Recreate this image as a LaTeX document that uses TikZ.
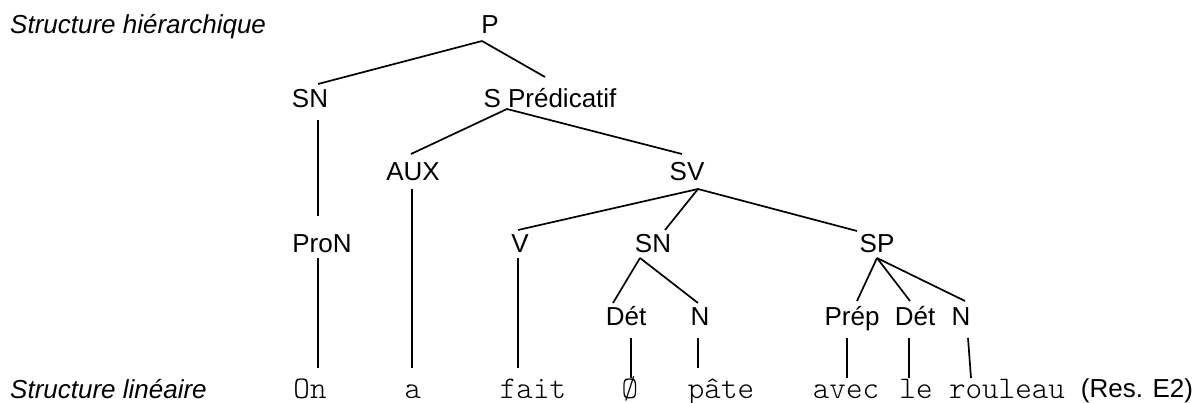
\documentclass[tikz,border=0pt]{standalone}
\usepackage{fontspec}
\setmainfont{Liberation Sans}
\newfontfamily\monof{Latin Modern Mono Light}
\usetikzlibrary{calc}
\tikzset{
  lab/.style={inner sep=0pt, anchor=base, font=\fontsize{26}{30}\selectfont},
  side/.style={inner sep=0pt, anchor=base west, font=\fontsize{26}{30}\selectfont\itshape},
  word/.style={inner sep=0pt, anchor=base, font=\fontsize{31.5}{34}\selectfont\monof},
  branch/.style={line width=1.7pt, line cap=butt}
}
\newcommand\tlink[6]{\draw[branch] ($(#1.base)+(#2,#3)$) -- ($(#4.base)+(#5,#6)$);}
\begin{document}
\begin{tikzpicture}[x=1pt,y=-1pt]
\useasboundingbox (0,0) rectangle (1197,403);
% side labels
\node[side] (sh) at (10,34) {Structure hiérarchique};
\node[side] (sl) at (10,398) {Structure linéaire};
% tree labels
\node[lab] (P) at (490,34) {P};
\node[lab] (SNa) at (310,108) {SN};
\node[lab] (SPred) at (550,108) {S Prédicatif};
\node[lab] (AUX) at (413,181) {AUX};
\node[lab] (SV) at (687,181) {SV};
\node[lab] (ProN) at (322,253) {ProN};
\node[lab] (V) at (520,253) {V};
\node[lab] (SNb) at (653,253) {SN};
\node[lab] (SP) at (877,253) {SP};
\node[lab] (Deta) at (626,326) {Dét};
\node[lab] (Na) at (700,326) {N};
\node[lab] (Prep) at (852,326) {Prép};
\node[lab] (Detb) at (915,326) {Dét};
\node[lab] (Nb) at (961,326) {N};
% words
\node[word] (On) at (310,398) {On};
\node[word] (wa) at (413,398) {a};
\node[word] (fait) at (533,398) {fait};
\node[word] (zero) at (630,398) {Ø};
\node[word] (pate) at (721,398) {pâte};
\node[word] (avec) at (846,398) {avec};
\node[word] (le) at (916,398) {le};
\node[word] (rouleau) at (1007,398) {rouleau};
\node[lab] (res) at (1137,397) {(Res. E2)};
% connectors
\tlink{P}{-8}{7}{SNa}{8}{-24}
\tlink{P}{-8}{7}{SPred}{-5}{-31}
\tlink{SNa}{8}{12}{ProN}{-4}{-37}
\tlink{SPred}{-43}{1}{AUX}{-2}{-27}
\tlink{SPred}{-43}{1}{SV}{-5}{-27}
\tlink{AUX}{-1}{8}{wa}{-1}{-30}
\tlink{ProN}{-4}{5}{On}{8}{-30}
\tlink{SV}{11}{8}{V}{-2}{-23}
\tlink{SV}{11}{8}{SNb}{12}{-23}
\tlink{SV}{11}{8}{SP}{-20}{-22}
\tlink{V}{-2}{5}{fait}{-15}{-30}
\tlink{SNb}{-13}{5}{Deta}{-13}{-23}
\tlink{SNb}{-13}{5}{Na}{-2}{-23}
\tlink{SP}{0}{5}{Prep}{5}{-25}
\tlink{SP}{0}{5}{Detb}{-5}{-25}
\tlink{SP}{0}{5}{Nb}{4}{-25}
\tlink{Deta}{5}{12}{zero}{1}{-20}
\tlink{Na}{-2}{12}{pate}{-23}{-30}
\tlink{Prep}{-5}{12}{avec}{1}{-20}
\tlink{Detb}{-6}{12}{le}{-7}{-20}
\tlink{Nb}{7}{12}{rouleau}{-36}{-20}
\end{tikzpicture}
\end{document}
